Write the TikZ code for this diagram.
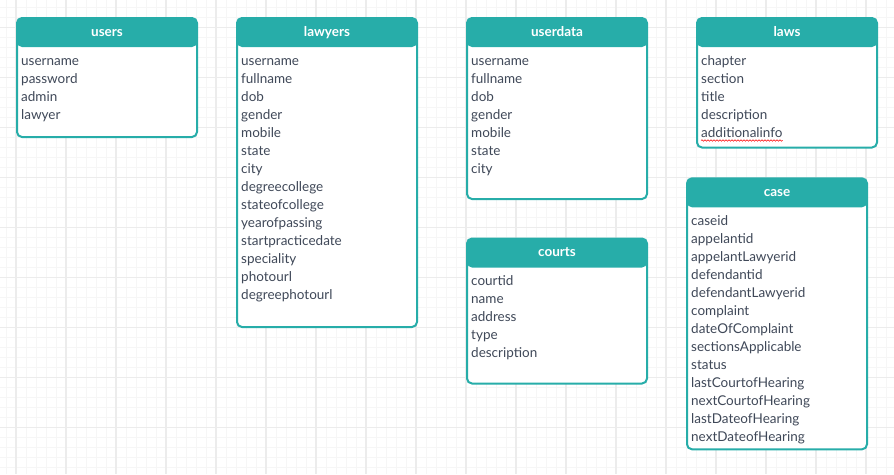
\documentclass[tikz,border=0pt]{standalone}
\usepackage{fontspec}
\setmainfont{Lato}
\usetikzlibrary{positioning,decorations.pathmorphing}
\definecolor{tabteal}{HTML}{27ADA9}
\definecolor{fieldgray}{HTML}{3F4858}
\definecolor{gridmajor}{HTML}{ECECEC}
\definecolor{gridminor}{HTML}{F6F6F6}

\begin{document}
\begin{tikzpicture}[x=1pt, y=-1pt,
                    dbtable/.style={draw=tabteal, line width=2pt, fill=white,
                      rounded corners=5pt, minimum width=180pt, anchor=north west, inner sep=0pt,
                      path picture={\fill[tabteal] (path picture bounding box.north west)
                        rectangle ([yshift=-29pt]path picture bounding box.north east);}},
                    headtext/.style={anchor=base, inner sep=0pt, text=white,
                      font=\fontsize{13.5}{16}\selectfont\bfseries},
                    field/.style={anchor=base west, inner sep=0pt, text=fieldgray,
                      font=\fontsize{13.5}{16}\selectfont}]
                    \useasboundingbox (0,0) rectangle (894,474);
                    \fill[white] (0,0) rectangle (894,474);

                    % background grid
                    \foreach \gx in {6,16,...,886}
                        \draw[gridminor, line width=0.8pt] (\gx,0) -- (\gx,474);
                    \foreach \gy in {7.7,17.7,...,470}
                        \draw[gridminor, line width=0.8pt] (0,\gy) -- (894,\gy);
                    \foreach \gx in {16,66,...,866}
                        \draw[gridmajor, line width=1.2pt] (\gx,0) -- (\gx,474);
                    \foreach \gy in {27.7,77.7,...,470}
                        \draw[gridmajor, line width=1.2pt] (0,\gy) -- (894,\gy);

                    % users
                    \node[dbtable, minimum height=119pt] (users) at (16,17) {};
                    \node[headtext] (users-head) at ([yshift=-19pt]users.north) {users};
                    \foreach \f [count=\i] in {username,password,admin,lawyer}
                        \node[field] (users-\i) at ([xshift=5pt,yshift={-48pt-(\i-1)*18pt}]users.north west) {\f};

                    % lawyers
                    \node[dbtable, minimum height=309pt] (lawyers) at (236,17) {};
                    \node[headtext] (lawyers-head) at ([yshift=-19pt]lawyers.north) {lawyers};
                    \foreach \f [count=\i] in {username,fullname,dob,gender,mobile,state,city,
                        degreecollege,stateofcollege,yearofpassing,startpracticedate,speciality,
                        photourl,degreephotourl}
                        \node[field] (lawyers-\i) at ([xshift=5pt,yshift={-48pt-(\i-1)*18pt}]lawyers.north west) {\f};

                    % userdata
                    \node[dbtable, minimum height=181pt] (userdata) at (466,17) {};
                    \node[headtext] (userdata-head) at ([yshift=-19pt]userdata.north) {userdata};
                    \foreach \f [count=\i] in {username,fullname,dob,gender,mobile,state,city}
                        \node[field] (userdata-\i) at ([xshift=5pt,yshift={-48pt-(\i-1)*18pt}]userdata.north west) {\f};

                    % courts
                    \node[dbtable, minimum height=145pt] (courts) at (466,237.5) {};
                    \node[headtext] (courts-head) at ([yshift=-19pt]courts.north) {courts};
                    \foreach \f [count=\i] in {courtid,name,address,type,description}
                        \node[field] (courts-\i) at ([xshift=5pt,yshift={-48pt-(\i-1)*18pt}]courts.north west) {\f};

                    % laws
                    \node[dbtable, minimum height=129.5pt] (laws) at (696,17) {};
                    \node[headtext] (laws-head) at ([yshift=-19pt]laws.north) {laws};
                    \foreach \f [count=\i] in {chapter,section,title,description,additionalinfo}
                        \node[field] (laws-\i) at ([xshift=5pt,yshift={-48pt-(\i-1)*18pt}]laws.north west) {\f};
                    \draw[red, line width=0.6pt, decorate, decoration={snake, amplitude=0.7pt, segment length=3pt}]
                        ([yshift=-3.5pt]laws-5.base west) -- ([yshift=-3.5pt]laws-5.base east);

                    % case
                    \node[dbtable, minimum height=271pt] (case) at (686,177.3) {};
                    \node[headtext] (case-head) at ([yshift=-19pt]case.north) {case};
                    \foreach \f [count=\i] in {caseid,appelantid,appelantLawyerid,defendantid,
                        defendantLawyerid,complaint,dateOfComplaint,sectionsApplicable,status,
                        lastCourtofHearing,nextCourtofHearing,lastDateofHearing,nextDateofHearing}
                        \node[field] (case-\i) at ([xshift=5pt,yshift={-48pt-(\i-1)*18pt}]case.north west) {\f};
\end{tikzpicture}
\end{document}
